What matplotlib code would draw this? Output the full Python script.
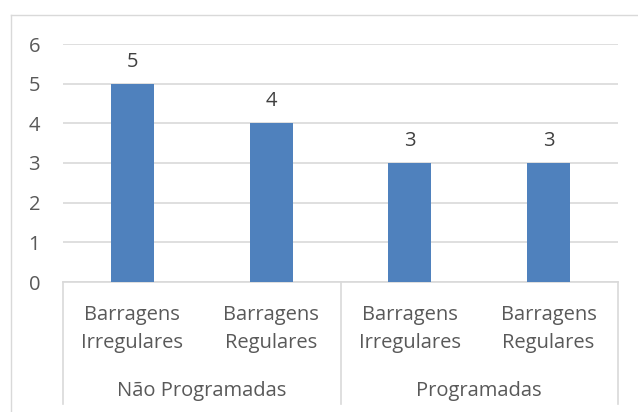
import matplotlib.pyplot as plt
from matplotlib.lines import Line2D
import matplotlib.transforms as mtransforms

# Data
groups = ['Não Programadas', 'Programadas']
categories = ['Barragens\nIrregulares', 'Barragens\nRegulares',
              'Barragens\nIrregulares', 'Barragens\nRegulares']
values = [5, 4, 3, 3]

plt.rcParams['font.family'] = ['Open Sans', 'DejaVu Sans']
text_color = '#595959'
grid_color = '#D9D9D9'
bar_color = '#4F81BD'
fs = 14.5

W, H = 638, 412
fig = plt.figure(figsize=(W / 100, H / 100), dpi=100)

# light chart-area border (top and left visible)
fig.add_artist(Line2D([11 / W, 1], [1 - 15 / H, 1 - 15 / H], color=grid_color, lw=1))
fig.add_artist(Line2D([11 / W, 11 / W], [0, 1 - 15 / H], color=grid_color, lw=1))

left, right, top, bottom = 63, 618, 44, 282
ax = fig.add_axes([left / W, 1 - bottom / H, (right - left) / W, (bottom - top) / H])

x = list(range(len(values)))
ax.bar(x, values, width=0.31, color=bar_color, zorder=3)
for xi, v in zip(x, values):
    ax.text(xi, v + 0.43, str(v), ha='center', va='baseline', fontsize=fs, color='#404040')

ax.set_xlim(-0.5, len(values) - 0.5)
ax.set_ylim(0, 6)
ax.set_yticks(range(0, 7))
ax.tick_params(axis='y', length=0, labelsize=fs, labelcolor=text_color, pad=16.5)
ax.set_xticks([])
ax.yaxis.grid(True, color=grid_color, lw=1.2)
for s in ['top', 'right', 'left']:
    ax.spines[s].set_visible(False)
ax.spines['bottom'].set_color(grid_color)
ax.spines['bottom'].set_linewidth(1.2)

trans = mtransforms.blended_transform_factory(ax.transData, ax.transAxes)
px = 1 / (bottom - top)  # axes units per pixel vertically

# category labels (two lines each, placed by baseline)
for xi, lab in zip(x, categories):
    for li, line in enumerate(lab.split('\n')):
        ax.text(xi, -(38 + 28 * li) * px, line, transform=trans, ha='center',
                va='baseline', fontsize=fs, color=text_color)

# group labels
for gi, g in enumerate(groups):
    ax.text(gi * 2 + 0.5, -114 * px, g, transform=trans, ha='center', va='baseline',
            fontsize=fs, color=text_color)

# separators
for sx in [-0.5, 1.5, 3.5]:
    ax.plot([sx, sx], [0, -122 * px], transform=trans, color=grid_color,
            lw=1.2, clip_on=False)

fig.savefig('out.png', dpi=100)
